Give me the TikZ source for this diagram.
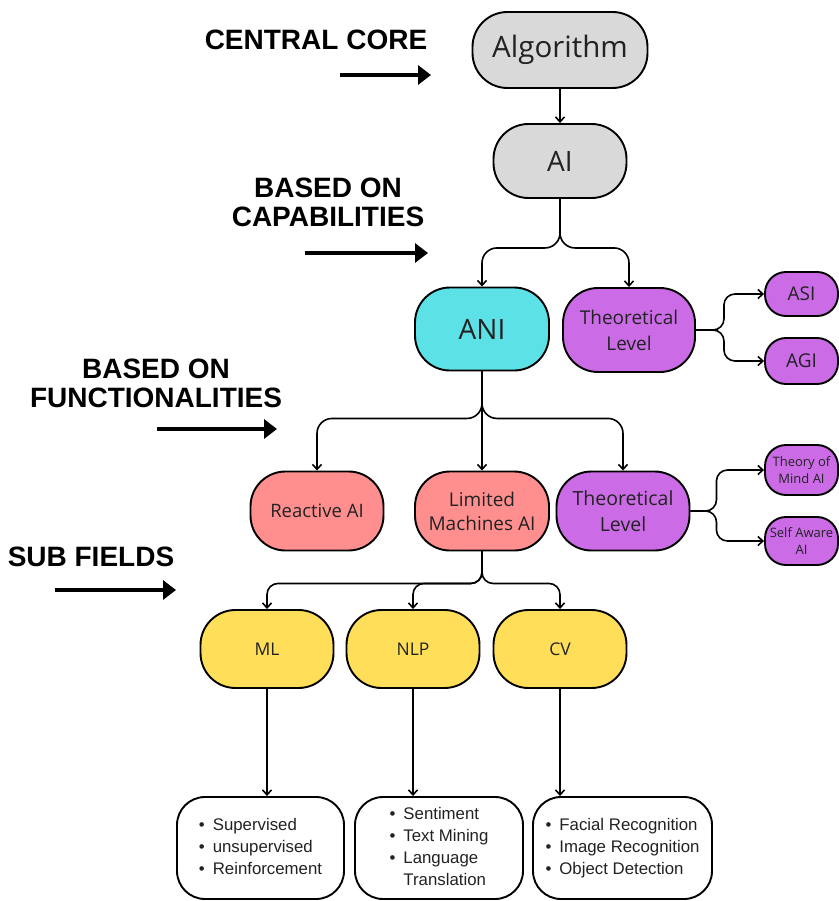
\documentclass[tikz,border=0pt]{standalone}
\usepackage{fontspec}
\setmainfont{Open Sans}
\newfontfamily\headfont{Liberation Sans}
\newfontfamily\listfont{Liberation Sans}
\usetikzlibrary{arrows.meta}
\definecolor{cgrey}{HTML}{D9D9D9}
\definecolor{ccyan}{HTML}{5CE1E6}
\definecolor{cpurple}{HTML}{CB6CE6}
\definecolor{csalmon}{HTML}{FF8F8F}
\definecolor{cyellow}{HTML}{FFDE59}
\definecolor{ctext}{HTML}{222222}
\begin{document}
\begin{tikzpicture}[x=1pt,y=-1pt,
  nbox/.style={draw=black, line width=1.9pt, inner sep=0pt, align=center, text=ctext},
  bigbox/.style={nbox, rounded corners=35pt},
  midbox/.style={nbox, rounded corners=35pt},
  smallbox/.style={nbox, rounded corners=21pt},
  listbox/.style={nbox, rounded corners=28pt, fill=white, font=\listfont\fontsize{16.8}{22}\selectfont},
  conn/.style={line width=1.6pt, rounded corners=15pt, -{Straight Barb[length=5pt,width=9pt]}},
  connb/.style={conn, rounded corners=11pt},
  harrow/.style={line width=4.5pt, -{Triangle[length=13pt,width=19pt]}},
  head/.style={font=\headfont\bfseries\fontsize{28}{29}\selectfont, align=center, inner sep=0pt}
]
\useasboundingbox (0,0) rectangle (838,901);

% headings
\node[head] (hcc) at (316,40) {CENTRAL CORE};
\node[head] (hcap) at (328,202) {BASED ON\\CAPABILITIES};
\node[head] (hfun) at (156,383) {BASED ON\\FUNCTIONALITIES};
\node[head] (hsub) at (91,557) {SUB FIELDS};
\coordinate (a1s) at (340,75);  \coordinate (a1e) at (431,75);
\coordinate (a2s) at (305,253); \coordinate (a2e) at (428,253);
\coordinate (a3s) at (157,429); \coordinate (a3e) at (277,429);
\coordinate (a4s) at (55,590);  \coordinate (a4e) at (176,590);
\draw[harrow] (a1s) -- (a1e);
\draw[harrow] (a2s) -- (a2e);
\draw[harrow] (a3s) -- (a3e);
\draw[harrow] (a4s) -- (a4e);

% main nodes
\node[bigbox, fill=cgrey, minimum width=175pt, minimum height=76pt, font=\fontsize{29.5}{32}\selectfont] (alg) at (560,50) {Algorithm};
\node[bigbox, fill=cgrey, minimum width=133pt, minimum height=74pt, font=\fontsize{28}{32}\selectfont] (ai) at (560,161) {AI};
\node[bigbox, fill=ccyan, minimum width=134pt, minimum height=83pt, font=\fontsize{28}{32}\selectfont] (ani) at (482,329) {ANI};
\node[midbox, fill=cpurple, minimum width=132pt, minimum height=84pt, font=\fontsize{19}{26}\selectfont] (tl1) at (629,330) {Theoretical\\Level};
\node[smallbox, fill=cpurple, minimum width=73pt, minimum height=44pt, font=\fontsize{19}{22}\selectfont] (asi) at (801.5,294) {ASI};
\node[smallbox, fill=cpurple, minimum width=73pt, minimum height=46pt, font=\fontsize{19}{22}\selectfont] (agi) at (801.5,361) {AGI};

\node[midbox, fill=csalmon, minimum width=133pt, minimum height=79pt, font=\fontsize{18.5}{24}\selectfont] (rea) at (317,511) {Reactive AI};
\node[midbox, fill=csalmon, minimum width=134pt, minimum height=79pt, font=\fontsize{19}{24}\selectfont] (lim) at (482,511) {Limited\\Machines AI};
\node[midbox, fill=cpurple, minimum width=133pt, minimum height=79pt, font=\fontsize{19.5}{26}\selectfont] (tl2) at (623,511) {Theoretical\\Level};
\node[smallbox, fill=cpurple, minimum width=73pt, minimum height=50pt, font=\fontsize{13}{17}\selectfont] (tom) at (801.5,470) {Theory of\\Mind AI};
\node[smallbox, fill=cpurple, minimum width=73pt, minimum height=48pt, font=\fontsize{13}{17}\selectfont] (sa) at (801.5,541) {Self Aware\\AI};

\node[midbox, fill=cyellow, minimum width=133pt, minimum height=78pt, font=\fontsize{17.5}{22}\selectfont] (ml) at (267,649) {ML};
\node[midbox, fill=cyellow, minimum width=133pt, minimum height=78pt, font=\fontsize{17.5}{22}\selectfont] (nlp) at (413,649) {NLP};
\node[midbox, fill=cyellow, minimum width=133pt, minimum height=78pt, font=\fontsize{17.5}{22}\selectfont] (cv) at (560,649) {CV};

% list boxes
\node[listbox, minimum width=167pt, minimum height=102pt] (mlb) at (260.5,848)
  {\begin{tabular}{@{}l@{\hspace{8pt}}l@{}}\textbullet & Supervised\\ \textbullet & unsupervised\\ \textbullet & Reinforcement\end{tabular}};
\node[listbox, minimum width=168pt, minimum height=102pt] (nlpb) at (439,848)
  {\begin{tabular}{@{}l@{\hspace{8pt}}l@{}}\textbullet & Sentiment\\ \textbullet & Text Mining\\ \textbullet & Language\\ & Translation\end{tabular}};
\node[listbox, minimum width=179pt, minimum height=102pt] (cvb) at (622.5,848)
  {\begin{tabular}{@{}l@{\hspace{8pt}}l@{}}\textbullet & Facial Recognition\\ \textbullet & Image Recognition\\ \textbullet & Object Detection\end{tabular}};

% connectors
\draw[conn] (alg.south) -- (ai.north);
\draw[conn] (ai.south) -- ++(0,49) -| (ani.north);
\draw[conn] (ai.south) -- ++(0,49) -| (tl1.north);
\draw[connb] (tl1.east) -- ++(28,0) |- (asi.west);
\draw[connb] (tl1.east) -- ++(28,0) |- (agi.west);
\draw[conn] (ani.south) -- ++(0,47) -| (rea.north);
\draw[conn] (ani.south) -- (lim.north);
\draw[conn] (ani.south) -- ++(0,47) -| (tl2.north);
\draw[connb] (tl2.east) -- ++(26,0) |- (tom.west);
\draw[connb] (tl2.east) -- ++(26,0) |- (sa.west);
\draw[connb] (lim.south) -- ++(0,32) -| (ml.north);
\draw[connb] (lim.south) -- ++(0,32) -| (nlp.north);
\draw[connb] (lim.south) -- ++(0,32) -| (cv.north);
\draw[conn] (ml.south) -- (ml.south |- mlb.north);
\draw[conn] (nlp.south) -- (nlp.south |- nlpb.north);
\draw[conn] (cv.south) -- (cv.south |- cvb.north);
\end{tikzpicture}
\end{document}
